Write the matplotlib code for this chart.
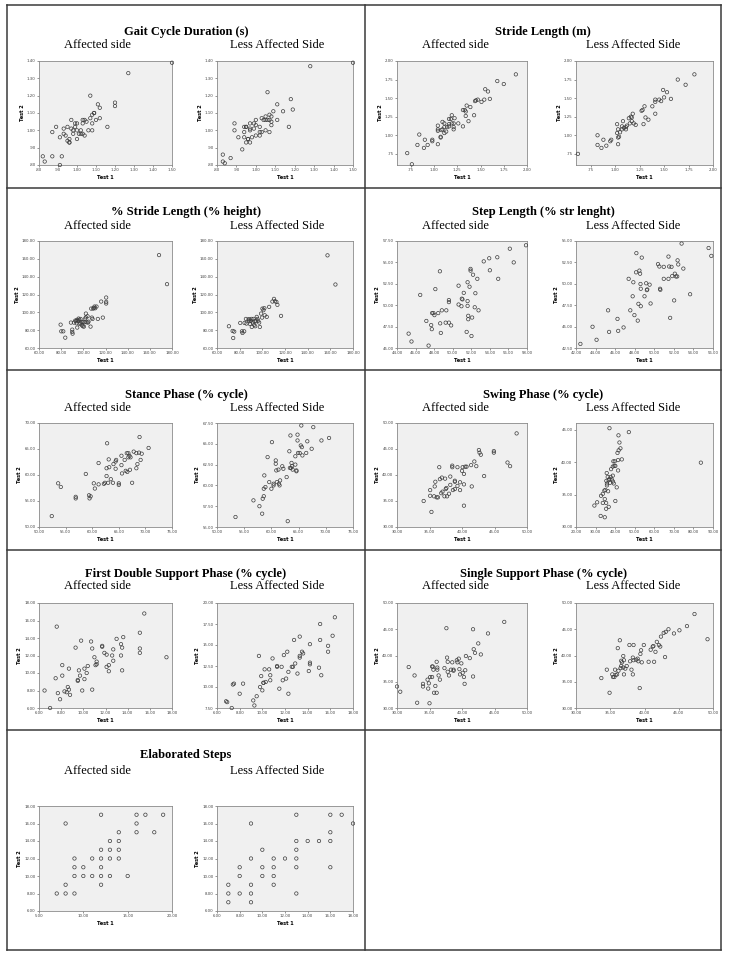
import numpy as np
import matplotlib
matplotlib.use("Agg")
import matplotlib.pyplot as plt
from matplotlib.lines import Line2D
from matplotlib.ticker import FuncFormatter

# ---- data: Test 1 (x) vs Test 2 (y), affected / less affected side ----
gait_aff_x = [0.82,0.83,0.87,0.87,0.89,0.91,0.91,0.92,0.93,0.93,0.94,0.95,0.95,0.96,0.96,0.96,0.97,0.97,0.98,0.98,0.99,0.99,1.00,1.00,1.00,1.01,1.02,1.02,1.03,1.03,1.03,1.04,1.04,1.05,1.06,1.07,1.07,1.08,1.08,1.08,1.09,1.09,1.10,1.11,1.12,1.12,1.16,1.20,1.20,1.27,1.50]
gait_aff_y = [0.85,0.82,0.85,0.99,1.02,0.96,0.80,0.85,1.01,0.98,0.97,1.02,0.94,0.93,0.95,0.93,1.06,1.01,1.00,0.98,1.02,1.04,1.04,0.95,1.00,0.98,0.98,1.00,0.98,1.04,1.06,0.97,1.06,1.05,1.00,1.20,1.07,1.04,1.00,1.09,1.10,1.10,1.06,1.15,1.13,1.07,1.02,1.14,1.16,1.33,1.39]
gait_less_x = [0.83,0.83,0.84,0.87,0.89,0.89,0.91,0.93,0.94,0.95,0.95,0.94,0.94,0.95,0.96,0.96,0.97,0.97,0.97,0.97,0.98,0.99,0.99,1.00,1.00,1.00,1.02,1.02,1.02,1.03,1.03,1.04,1.05,1.05,1.06,1.05,1.06,1.07,1.07,1.07,1.08,1.08,1.08,1.09,1.11,1.11,1.14,1.17,1.18,1.19,1.28,1.50]
gait_less_y = [0.86,0.82,0.81,0.84,1.04,1.00,0.96,0.89,1.02,1.02,1.02,0.99,0.96,0.93,0.95,0.95,0.93,1.04,1.01,1.00,0.96,1.01,1.04,1.03,1.06,0.97,1.02,0.97,0.99,1.07,0.99,1.06,1.06,1.08,1.06,1.00,1.22,1.06,0.99,1.09,1.05,1.08,1.03,1.11,1.06,1.15,1.11,1.02,1.18,1.12,1.37,1.39]

stride_aff_x = [0.71,0.76,0.82,0.84,0.89,0.90,0.93,0.98,0.98,1.04,1.04,1.04,1.04,1.07,1.07,1.08,1.09,1.09,1.11,1.11,1.11,1.13,1.14,1.16,1.16,1.16,1.18,1.19,1.19,1.21,1.21,1.21,1.22,1.26,1.31,1.31,1.33,1.34,1.34,1.35,1.37,1.39,1.43,1.44,1.45,1.47,1.51,1.54,1.55,1.58,1.60,1.68,1.75,1.88]
stride_aff_y = [0.76,0.61,0.87,1.01,0.83,0.94,0.87,0.92,0.94,1.08,1.13,1.06,0.88,0.98,0.97,1.07,1.18,1.08,1.03,1.16,1.11,1.05,1.11,1.22,1.15,1.12,1.22,1.16,1.27,1.16,1.08,1.11,1.23,1.16,1.12,1.34,1.34,1.26,1.32,1.40,1.19,1.38,1.27,1.46,1.47,1.48,1.45,1.48,1.62,1.59,1.49,1.73,1.69,1.82]
stride_less_x = [0.62,0.82,0.82,0.86,0.88,0.91,0.95,0.96,1.02,1.02,1.03,1.03,1.03,1.04,1.05,1.07,1.07,1.08,1.09,1.11,1.11,1.12,1.14,1.15,1.16,1.17,1.17,1.18,1.19,1.21,1.27,1.28,1.29,1.30,1.31,1.34,1.38,1.41,1.41,1.41,1.45,1.47,1.50,1.49,1.53,1.57,1.64,1.72,1.81]
stride_less_y = [0.75,0.87,1.00,0.83,0.94,0.86,0.92,0.94,1.03,1.15,1.08,0.97,0.88,0.98,1.04,1.08,1.12,1.19,1.10,1.11,1.08,1.13,1.23,1.16,1.25,1.19,1.24,1.29,1.16,1.14,1.33,1.34,1.15,1.39,1.24,1.21,1.39,1.48,1.29,1.45,1.48,1.46,1.51,1.61,1.58,1.49,1.75,1.68,1.82]

pstride_aff_x = [79.5,80.1,81.9,83.7,88.8,90.0,90.0,90.3,91.5,92.7,93.3,93.9,94.2,94.5,95.1,95.7,96.3,96.6,97.5,97.5,98.4,98.7,99.6,99.9,100.5,101.1,101.7,102.3,102.3,102.9,103.8,104.1,104.7,106.5,107.1,107.7,108.3,108.9,109.5,110.1,110.7,111.9,113.1,116.1,117.6,120.6,120.6,120.6,168.3,175.5]
pstride_aff_y = [86.2,78.7,78.7,71.6,88.5,80.6,78.0,76.1,88.5,90.7,90.0,87.7,91.5,82.9,90.4,93.0,91.5,87.0,92.6,87.7,89.2,85.5,84.4,89.2,84.0,88.9,93.0,94.5,98.6,88.9,95.6,88.5,89.6,84.0,104.2,94.1,92.6,104.2,105.0,106.5,104.6,106.5,92.6,112.1,94.1,116.6,111.7,109.9,164.2,131.6]
pstride_less_x = [70.5,73.8,75.2,74.3,80.5,82.0,82.5,84.0,84.3,85.5,86.0,87.8,88.4,88.7,89.0,89.9,90.4,90.7,91.6,92.2,92.8,93.1,93.7,94.2,95.1,95.7,96.3,97.2,97.8,98.9,99.8,100.1,101.0,101.8,102.1,103.9,106.0,108.9,110.3,111.2,112.4,113.3,116.5,157.5,164.5]
pstride_less_y = [84.4,79.1,78.4,71.2,88.1,78.7,76.9,78.7,88.1,92.6,87.4,92.2,90.0,91.9,87.0,90.4,92.6,83.6,88.5,92.6,85.9,90.0,84.4,90.0,94.9,92.6,90.4,88.5,83.6,98.6,94.1,104.2,102.4,104.6,96.7,94.9,106.1,112.1,115.1,112.5,111.7,108.4,96.0,163.9,131.2]

step_aff_x = [45.25,45.56,46.50,47.16,47.40,47.68,47.75,47.78,47.92,48.03,48.13,48.44,48.62,48.65,48.72,48.83,49.24,49.31,49.59,49.59,49.59,49.83,50.63,50.63,50.94,50.98,51.05,51.19,51.50,51.60,51.60,51.60,51.67,51.67,51.81,51.92,51.92,52.02,52.09,52.19,52.37,52.44,52.65,52.78,53.34,53.93,54.00,54.80,54.90,56.15,56.57,57.89]
step_aff_y = [46.68,45.76,51.20,48.16,45.28,47.68,47.20,49.08,49.08,48.84,51.88,49.08,53.96,47.88,46.76,49.40,47.96,49.40,50.60,50.36,47.96,47.64,50.08,52.28,49.88,50.76,50.68,51.44,46.88,52.68,50.48,49.92,48.76,48.36,52.16,54.24,54.04,46.40,48.56,53.56,49.76,51.40,53.08,49.40,55.12,55.48,54.08,55.60,53.08,56.60,55.00,57.00]
step_less_x = [42.45,43.69,44.10,45.28,45.38,46.24,46.31,46.86,47.38,47.55,47.79,47.86,47.97,48.14,48.17,48.31,48.38,48.48,48.55,48.59,48.62,48.62,48.72,49.00,49.17,49.24,49.28,49.52,49.62,50.38,50.52,50.59,50.62,50.97,50.97,51.45,51.52,51.45,51.62,51.76,51.83,52.03,52.10,52.21,52.34,52.38,52.45,52.97,52.79,53.66,55.55,55.83]
step_less_y = [42.98,44.98,43.46,46.90,44.38,45.90,44.50,44.90,50.58,46.90,48.54,50.18,46.34,51.34,53.58,45.70,47.66,51.54,51.18,49.98,49.42,47.38,53.06,48.54,50.06,49.26,49.34,49.90,47.70,52.30,52.02,49.42,49.30,51.98,50.58,53.18,52.02,50.58,46.02,51.98,50.90,48.06,51.18,50.86,50.86,52.74,52.26,51.78,54.70,48.78,54.18,53.26]

stance_aff_x = [52.4,53.6,54.1,56.9,56.9,58.8,59.4,59.5,59.7,60.3,60.5,61.2,61.2,62.2,62.4,62.7,62.7,62.8,63.0,63.1,63.2,63.5,63.9,64.0,64.4,64.4,64.5,65.0,65.0,65.5,65.5,65.6,66.1,66.3,66.5,66.6,66.8,66.8,67.0,67.1,67.2,67.5,67.8,68.3,68.3,68.5,68.8,68.9,69.1,69.3,70.6]
stance_aff_y = [52.1,58.4,57.7,55.8,55.5,60.2,56.1,55.5,55.9,58.4,57.4,62.3,58.2,58.3,58.5,61.3,59.8,66.1,58.5,63.0,61.5,59.2,58.5,62.1,62.6,61.2,62.9,58.1,58.4,63.7,61.9,60.3,62.9,60.8,64.2,60.6,63.4,64.2,63.7,61.0,63.4,58.5,64.5,61.3,64.2,62.1,64.3,67.3,62.9,64.1,65.2]
stance_less_x = [53.4,56.7,57.8,58.3,58.4,58.6,58.6,58.7,58.9,59.3,59.6,60.0,60.1,60.4,60.4,60.8,60.8,60.9,61.0,61.3,61.4,61.5,61.6,62.0,62.2,62.8,63.0,63.3,63.4,63.5,63.6,63.7,63.8,63.9,64.4,64.4,64.6,64.6,64.8,64.8,64.9,65.2,65.4,65.5,65.6,65.7,66.4,66.6,67.4,67.7,69.2,70.6]
stance_less_y = [56.2,58.2,57.5,56.6,58.4,58.7,59.6,61.2,59.8,63.4,60.4,59.6,65.2,60.0,60.2,63.0,62.6,61.8,60.4,61.9,60.2,60.0,60.6,62.3,62.0,61.0,55.7,64.1,62.1,66.0,62.1,62.7,62.3,61.9,63.5,62.5,61.8,61.7,65.4,66.1,63.9,63.9,64.8,67.2,64.6,63.6,63.9,65.3,64.4,67.0,65.4,65.7]

swing_aff_x = [34.1,35.3,35.1,35.1,35.7,35.8,35.9,36.1,36.3,36.5,36.6,36.8,36.9,37.0,37.3,37.4,37.5,37.6,37.7,38.0,38.2,38.2,38.5,38.5,38.6,38.9,38.9,38.9,39.3,39.3,39.7,39.7,40.0,40.1,40.3,40.3,40.3,40.5,40.7,41.4,41.5,41.9,42.2,42.6,42.7,42.9,43.4,44.9,44.9,47.0,47.4,48.4]
swing_aff_y = [35.0,32.9,37.1,36.0,35.9,37.8,38.7,35.7,35.7,41.5,39.2,36.5,39.5,36.8,35.9,39.3,37.3,37.5,35.9,36.4,39.7,38.1,41.8,41.5,37.1,38.9,37.3,38.7,41.5,37.9,38.6,37.1,40.8,41.5,40.2,38.2,34.1,41.6,41.6,41.9,37.8,42.6,41.7,44.8,44.3,43.9,39.8,44.6,44.3,42.4,41.7,48.0]
swing_less_x = [29.4,30.8,32.6,34.7,32.8,33.7,33.7,34.5,34.7,35.0,35.4,35.4,35.5,35.7,35.8,35.8,36.2,36.4,36.7,36.7,37.1,37.1,37.4,37.7,37.9,38.3,38.8,38.8,38.9,39.1,39.3,39.6,39.8,40.1,40.1,40.8,41.2,41.5,41.7,41.5,41.8,42.2,42.7,43.4,47.0,83.8]
swing_less_y = [33.3,33.8,31.7,31.5,34.8,33.7,35.1,35.6,34.3,35.7,32.8,33.7,37.1,38.3,36.7,36.4,37.7,35.5,33.1,37.2,45.2,37.4,36.8,37.7,38.9,37.3,37.9,39.3,37.0,40.1,36.7,39.4,40.1,39.4,34.0,36.1,41.4,38.7,44.1,40.3,41.8,43.0,42.1,40.4,44.6,39.9]

fds_aff_x = [6.5,7.0,7.5,7.6,7.7,7.9,8.1,8.1,8.3,8.5,8.6,8.7,8.7,8.8,9.3,9.5,9.5,9.6,9.7,9.8,9.9,10.1,10.1,10.3,10.4,10.7,10.8,10.8,11.0,11.1,11.2,11.2,11.7,11.7,11.9,12.1,12.1,12.3,12.3,12.6,12.7,12.7,13.0,13.4,13.4,13.5,13.5,13.6,15.1,15.1,15.1,15.5,17.5]
fds_aff_y = [8.0,6.0,9.4,15.3,7.7,7.0,10.9,9.7,7.9,7.8,8.4,10.5,8.1,7.5,12.9,9.1,9.2,10.3,9.7,13.7,8.0,10.5,9.3,10.0,10.8,13.6,12.8,8.1,11.8,10.9,11.3,11.0,13.1,13.0,12.3,12.1,10.7,10.9,10.2,12.0,12.7,11.4,13.9,13.3,12.0,12.9,10.3,14.1,14.6,12.8,12.3,16.8,11.8]
fds_less_x = [6.8,6.9,7.3,7.4,7.5,8.0,8.3,9.2,9.3,9.5,9.7,9.8,9.9,10.0,10.1,10.1,10.2,10.3,10.6,10.7,10.7,10.9,11.3,11.3,11.5,11.7,11.8,11.9,12.1,12.2,12.3,12.3,12.6,12.7,12.8,12.9,13.1,13.3,13.3,13.3,13.5,13.6,14.2,14.1,14.2,14.2,15.1,15.1,15.2,15.0,15.8,15.8,16.2,16.4]
fds_less_y = [8.3,8.2,7.5,10.3,10.4,9.2,10.4,8.4,7.8,8.9,13.7,10.0,11.3,9.6,10.5,10.5,12.1,10.6,12.1,11.4,10.8,13.4,12.5,12.4,9.8,12.4,10.8,13.8,11.0,14.2,11.8,9.2,12.4,12.4,15.6,12.8,11.6,13.7,13.5,16.0,14.2,14.0,15.1,11.9,12.9,12.7,17.5,15.6,11.4,12.3,14.2,14.9,16.1,18.3]

single_aff_x = [30.0,30.5,31.8,32.7,33.1,34.0,34.0,34.7,34.8,34.9,35.0,35.1,35.4,35.4,35.5,35.6,35.7,35.9,36.1,36.1,36.2,36.2,36.4,36.6,37.3,37.6,37.7,37.8,37.8,38.0,38.3,38.5,38.7,38.7,39.2,39.3,39.5,39.6,39.7,39.9,40.1,40.3,40.5,40.6,40.4,41.2,41.7,41.8,41.7,42.0,42.5,42.9,44.0,46.5]
single_aff_y = [34.1,33.1,37.8,36.2,31.0,34.6,34.1,35.4,33.7,34.7,30.9,35.9,35.9,37.9,37.9,37.3,32.9,34.2,32.9,38.8,37.7,37.3,36.2,35.4,37.6,45.2,39.6,38.8,36.9,36.2,37.3,38.7,37.3,37.1,39.1,38.7,39.4,37.4,36.4,38.5,36.7,35.9,37.2,39.9,34.6,39.5,36.0,41.2,45.0,40.5,42.3,40.2,44.2,46.4]
single_less_x = [33.7,34.5,34.9,35.3,35.4,35.6,35.7,35.8,36.0,36.1,36.2,36.4,36.6,36.5,36.6,36.7,36.9,36.9,37.0,37.0,37.2,37.4,37.8,38.4,37.9,38.1,38.3,38.3,38.4,38.8,39.0,39.1,39.3,39.4,39.5,39.6,39.9,40.6,40.9,41.2,41.3,41.4,41.6,41.8,42.1,42.3,42.4,42.8,43.0,43.1,43.5,44.3,45.1,46.2,47.3,49.2]
single_less_y = [35.7,37.3,32.9,36.4,35.9,35.9,37.3,36.3,36.4,41.4,37.1,42.9,38.0,37.6,39.0,38.7,39.9,37.7,39.1,36.4,37.5,38.0,42.0,42.0,38.9,37.3,39.6,36.4,39.1,39.2,39.4,38.9,33.8,40.3,41.0,38.7,42.0,38.8,41.1,41.7,41.8,38.8,40.7,42.6,42.0,41.7,43.6,44.3,39.7,44.5,45.0,44.2,44.8,45.6,47.9,43.1]

steps_aff_x = [7,8,8,8,9,9,9,9,10,10,11,11,12,12,12,12,12,12,13,13,13,13,14,14,14,14,15,16,16,16,17,18,19]
steps_aff_y = [8,8,9,16,8,10,11,12,10,11,10,12,9,10,11,12,13,17,10,12,13,14,12,13,14,15,10,15,16,17,17,15,17]
steps_less_x = [7,7,7,8,8,8,9,9,9,9,9,10,10,10,11,11,11,11,12,13,13,13,13,13,13,14,15,16,16,16,16,17,18]
steps_less_y = [9,8,7,10,11,8,16,12,9,8,7,13,11,10,12,11,10,9,12,17,14,13,12,11,8,14,14,17,15,14,11,17,16]

titles = ["Gait Cycle Duration (s)", "Stride Length (m)",
          "% Stride Length (% height)", "Step Length (% str lenght)",
          "Stance Phase (% cycle)", "Swing Phase (% cycle)",
          "First Double Support Phase (% cycle)", "Single Support Phase (% cycle)",
          "Elaborated Steps"]

# (x, y, xlim, xtick step, ylim, ytick step) for affected / less affected
panels = [
    [(gait_aff_x, gait_aff_y, (0.8, 1.5), 0.1, (0.8, 1.4), 0.1),
     (gait_less_x, gait_less_y, (0.8, 1.5), 0.1, (0.8, 1.4), 0.1)],
    [(stride_aff_x, stride_aff_y, (0.6, 2.0), 0.25, (0.6, 2.0), 0.25),
     (stride_less_x, stride_less_y, (0.6, 2.0), 0.25, (0.6, 2.0), 0.25)],
    [(pstride_aff_x, pstride_aff_y, (60, 180), 20, (60, 180), 20),
     (pstride_less_x, pstride_less_y, (60, 180), 20, (60, 180), 20)],
    [(step_aff_x, step_aff_y, (44, 58), 2, (45, 57.5), 2.5),
     (step_less_x, step_less_y, (42, 56), 2, (42.5, 55), 2.5)],
    [(stance_aff_x, stance_aff_y, (50, 75), 5, (50, 70), 5),
     (stance_less_x, stance_less_y, (50, 75), 5, (55, 67.5), 2.5)],
    [(swing_aff_x, swing_aff_y, (30, 50), 5, (30, 50), 5),
     (swing_less_x, swing_less_y, (20, 90), 10, (30, 46), 5)],
    [(fds_aff_x, fds_aff_y, (6, 18), 2, (6, 18), 2),
     (fds_less_x, fds_less_y, (6, 18), 2, (7.5, 20), 2.5)],
    [(single_aff_x, single_aff_y, (30, 50), 5, (30, 50), 5),
     (single_less_x, single_less_y, (30, 50), 5, (30, 50), 5)],
    [(steps_aff_x, steps_aff_y, (5, 20), 5, (6, 18), 2),
     (steps_less_x, steps_less_y, (6, 18), 2, (6, 18), 2)],
]

W, H = 729, 958
fig = plt.figure(figsize=(W / 100, H / 100), dpi=100)

serif = ["Liberation Serif", "DejaVu Serif"]

# pixel layout
col_axes = [[(39, 172), (217, 353)], [(397, 527), (576, 713)]]
col_sub = [[97, 277], [455, 633]]
col_center = [186, 543]
row_axes = [(61, 165), (241, 348), (423, 527), (603, 708), (806, 911)]
row_title = [32, 212, 395, 574, 755]
row_sub = [45, 226, 408, 586, 771]


def fmt(v, pos):
    s = f"{v:.2f}"
    return s[1:] if s.startswith("0") else s


for i, (title, panel) in enumerate(zip(titles, panels)):
    r, c = divmod(i, 2)
    fig.text(col_center[c] / W, 1 - row_title[r] / H, title, ha="center", va="center",
             fontsize=9, fontweight="bold", family=serif)
    for k, name in enumerate(["Affected side", "Less Affected Side"]):
        fig.text(col_sub[c][k] / W, 1 - row_sub[r] / H, name, ha="center", va="center",
                 fontsize=9, family=serif)
        x, y, xl, xs, yl, ys = panel[k]
        x0, x1 = col_axes[c][k]
        y0, y1 = row_axes[r]
        ax = fig.add_axes([x0 / W, 1 - y1 / H, (x1 - x0) / W, (y1 - y0) / H])
        ax.set_facecolor("#f0f0f0")
        ax.scatter(x, y, s=6, facecolors="none", edgecolors="#3c3c3c", linewidths=0.5,
                   clip_on=False, zorder=3)
        ax.set_xlim(xl)
        ax.set_ylim(yl)
        xt = np.arange(xl[0], xl[1] + 1e-6, xs)
        yt = np.arange(yl[0], yl[1] + 1e-6, ys)
        if xl[0] == 0.6:
            xt = np.arange(0.75, xl[1] + 1e-6, xs)
            yt = np.arange(0.75, yl[1] + 1e-6, ys)
        ax.set_xticks(xt)
        ax.set_yticks(yt)
        ax.xaxis.set_major_formatter(FuncFormatter(fmt))
        ax.yaxis.set_major_formatter(FuncFormatter(fmt))
        ax.tick_params(labelsize=2.8, length=1.5, width=0.4, pad=1, colors="#444444")
        for sp in ax.spines.values():
            sp.set_color("#8a8a8a")
            sp.set_linewidth(0.6)
        ax.set_xlabel("Test 1", fontsize=3.6, fontweight="bold", labelpad=1.5)
        ax.set_ylabel("Test 2", fontsize=3.6, fontweight="bold", labelpad=1.5)

# table frame
line_kw = dict(color="#3a3a3a", linewidth=1.1, transform=fig.transFigure)
xl_, xm_, xr_ = 7 / W, 365 / W, 721 / W
yt_, yb_ = 1 - 5 / H, 1 - 950 / H
for yy in [5, 188, 370, 550, 730, 950]:
    fig.add_artist(Line2D([xl_, xr_], [1 - yy / H, 1 - yy / H], **line_kw))
for xx in [xl_, xm_, xr_]:
    fig.add_artist(Line2D([xx, xx], [yt_, yb_], **line_kw))

fig.savefig("out.png", dpi=100, facecolor="white")
